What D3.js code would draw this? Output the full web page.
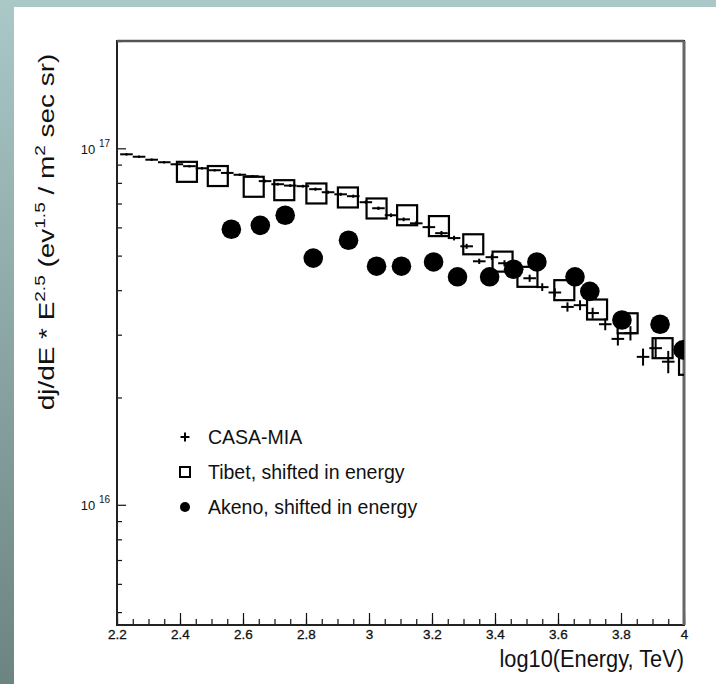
<!DOCTYPE html>
<html>
<head>
    <meta charset="utf-8">
    <title>Cosmic ray spectrum</title>
    <style>
        body { margin: 0; }
        text { font-family: "Liberation Sans", Arial, Helvetica, sans-serif; fill: #111; }
    </style>
</head>
<body>
    <script src="https://cdnjs.cloudflare.com/ajax/libs/d3/7.9.0/d3.min.js"></script>
    <script>

        // CASA-MIA: log10(E) bin centres, flux and relative error
        const casaE = [2.23, 2.27, 2.31, 2.35, 2.39, 2.43, 2.47, 2.51, 2.55, 2.59, 2.63,
            2.67, 2.71, 2.75, 2.79, 2.83, 2.87, 2.91, 2.95, 2.99, 3.03, 3.07, 3.11, 3.15,
            3.19, 3.23, 3.27, 3.31, 3.35, 3.39, 3.43, 3.47, 3.51, 3.55, 3.59, 3.63, 3.67,
            3.71, 3.75, 3.79, 3.83, 3.87, 3.91, 3.95];
        const casaFlux = [9.62e16, 9.47e16, 9.29e16, 9.14e16, 9.02e16, 8.91e16, 8.79e16,
            8.68e16, 8.53e16, 8.43e16, 8.35e16, 8.09e16, 7.93e16, 7.86e16, 7.83e16, 7.68e16,
            7.53e16, 7.43e16, 7.34e16, 7.06e16, 6.79e16, 6.49e16, 6.32e16, 6.16e16, 6.01e16,
            5.78e16, 5.60e16, 5.31e16, 4.82e16, 4.95e16, 4.76e16, 4.58e16, 4.32e16, 4.08e16,
            3.94e16, 3.59e16, 3.63e16, 3.45e16, 3.21e16, 2.92e16, 3.03e16, 2.60e16, 2.75e16,
            2.52e16];
        const casaErr = [0.008, 0.008, 0.008, 0.008, 0.008, 0.008, 0.008, 0.008, 0.008,
            0.008, 0.008, 0.009, 0.009, 0.009, 0.009, 0.01, 0.01, 0.01, 0.01, 0.011, 0.011,
            0.012, 0.012, 0.013, 0.013, 0.014, 0.015, 0.016, 0.017, 0.018, 0.02, 0.021, 0.023,
            0.025, 0.027, 0.03, 0.032, 0.035, 0.038, 0.042, 0.046, 0.055, 0.062, 0.072];

        const tibetE = [2.422, 2.520, 2.634, 2.731, 2.833, 2.933, 3.024, 3.121, 3.222,
            3.331, 3.424, 3.503, 3.620, 3.724, 3.821, 3.932, 4.016];
        const tibetFlux = [8.59e16, 8.36e16, 7.80e16, 7.63e16, 7.47e16, 7.28e16, 6.78e16,
            6.49e16, 6.05e16, 5.38e16, 4.81e16, 4.36e16, 4.00e16, 3.53e16, 3.23e16, 2.75e16,
            2.47e16];

        const akenoE = [2.563, 2.655, 2.734, 2.823, 2.935, 3.024, 3.103, 3.205, 3.281,
            3.383, 3.459, 3.533, 3.654, 3.701, 3.803, 3.924, 3.997];
        const akenoFlux = [5.93e16, 6.08e16, 6.49e16, 4.92e16, 5.52e16, 4.67e16, 4.67e16,
            4.80e16, 4.36e16, 4.36e16, 4.58e16, 4.80e16, 4.36e16, 3.97e16, 3.30e16, 3.21e16,
            2.72e16];

        const legendLabels = ["CASA-MIA", "Tibet, shifted in energy", "Akeno, shifted in energy"];
        const yLabelDecades = [1e16, 1e17];

        const width = 716;
        const height = 684;
        const margin = {top: 41, right: 32, bottom: 59, left: 117};
        const innerW = width - margin.left - margin.right;
        const innerH = height - margin.top - margin.bottom;
        const binHalf = 0.02;

        const svg = d3.select("body")
            .append("svg")
            .attr("width", width)
            .attr("height", height);

        // slide background
        const grad = svg.append("defs").append("linearGradient")
            .attr("id", "bg").attr("x1", 0).attr("y1", 0).attr("x2", 0).attr("y2", 1);
        grad.append("stop").attr("offset", "0%").attr("stop-color", "#a9c8c7");
        grad.append("stop").attr("offset", "100%").attr("stop-color", "#6c8482");
        svg.select("defs").append("clipPath").attr("id", "plotclip")
            .append("rect").attr("width", innerW).attr("height", innerH);

        svg.append("rect").attr("width", width).attr("height", height).attr("fill", "url(#bg)");
        svg.append("rect").attr("x", 14).attr("y", 7)
            .attr("width", width - 14).attr("height", height - 7).attr("fill", "#fff");

        const g = svg.append("g")
            .attr("transform", `translate(${margin.left},${margin.top})`);

        const x = d3.scaleLinear().domain([2.2, 4.0]).range([0, innerW]);
        const y = d3.scaleLog().domain([4.6e15, 2e17]).range([innerH, 0]);

        // x axis: minor every 0.05, major every 0.2, ticks pointing inward
        const xMinor = x.ticks(36);
        const xMajor = x.ticks(9);
        g.append("g")
            .attr("transform", `translate(0,${innerH})`)
            .call(d3.axisBottom(x).tickValues(xMinor).tickSize(-6).tickFormat(""))
            .call(a => a.select(".domain").remove());
        const xAx = g.append("g")
            .attr("transform", `translate(0,${innerH})`)
            .call(d3.axisBottom(x).tickValues(xMajor).tickSize(-12).tickPadding(4)
                .tickFormat(d => String(+d.toFixed(1))))
            .call(a => a.select(".domain").remove());
        xAx.selectAll("text").attr("font-size", 13.5)
            .attr("stroke", "#111").attr("stroke-width", 0.3)
            .style("font-family", "'Liberation Sans', Arial, sans-serif");

        // y axis: log, ticks inward
        const yMinor = y.ticks().filter(d => !yLabelDecades.includes(d));
        g.append("g")
            .call(d3.axisLeft(y).tickValues(yMinor).tickSize(-5).tickFormat(""))
            .call(a => a.select(".domain").remove());
        const yAx = g.append("g")
            .call(d3.axisLeft(y).tickValues(yLabelDecades).tickSize(-9).tickFormat(""))
            .call(a => a.select(".domain").remove());
        yAx.selectAll(".tick").each(function(d) {
            const t = d3.select(this).append("text")
                .attr("x", -7).attr("y", 5)
                .attr("text-anchor", "end")
                .attr("font-size", 13);
            t.append("tspan").text("10 ");
            t.append("tspan").attr("dy", -7).attr("font-size", 10).text(Math.round(Math.log10(d)));
        });
        g.selectAll(".tick line").attr("stroke", "#111").attr("stroke-width", 1.2);

        // frame
        g.append("rect")
            .attr("width", innerW).attr("height", innerH)
            .attr("fill", "none").attr("stroke", "#222").attr("stroke-width", 2);
        g.append("line").attr("x1", 0).attr("x2", innerW).attr("y1", 0).attr("y2", 0)
            .attr("stroke", "#555").attr("stroke-width", 2.5);
        g.append("line").attr("x1", innerW).attr("x2", innerW).attr("y1", 0).attr("y2", innerH)
            .attr("stroke", "#666").attr("stroke-width", 3);

        const plot = g.append("g").attr("clip-path", "url(#plotclip)");

        // CASA-MIA crosses: bin width horizontally, error bar vertically
        const casa = casaE.map((e, i) => ({e, f: casaFlux[i], err: casaErr[i]}));
        const cross = plot.selectAll(".casa").data(casa).enter().append("g").attr("class", "casa");
        cross.append("line")
            .attr("x1", d => x(d.e - binHalf)).attr("x2", d => x(d.e + binHalf))
            .attr("y1", d => y(d.f)).attr("y2", d => y(d.f));
        cross.append("line")
            .attr("x1", d => x(d.e)).attr("x2", d => x(d.e))
            .attr("y1", d => y(d.f * (1 - d.err))).attr("y2", d => y(d.f * (1 + d.err)));
        cross.selectAll("line").attr("stroke", "#000").attr("stroke-width", 2);

        // Tibet open squares
        const sq = 20;
        plot.selectAll(".tibet").data(tibetE).enter().append("rect")
            .attr("x", d => x(d) - sq / 2)
            .attr("y", (d, i) => y(tibetFlux[i]) - sq / 2)
            .attr("width", sq).attr("height", sq)
            .attr("fill", "none").attr("stroke", "#000").attr("stroke-width", 2.2);

        // Akeno filled circles
        plot.selectAll(".akeno").data(akenoE).enter().append("circle")
            .attr("cx", d => x(d))
            .attr("cy", (d, i) => y(akenoFlux[i]))
            .attr("r", 9.8)
            .attr("fill", "#000");

        // legend
        const leg = g.append("g").attr("transform", "translate(68,396)");
        legendLabels.forEach((label, i) => {
            const row = leg.append("g").attr("transform", `translate(0,${i * 35})`);
            if (i === 0) {
                row.append("path").attr("d", "M-4.5,0H4.5M0,-4.5V4.5")
                    .attr("stroke", "#000").attr("stroke-width", 2);
            } else if (i === 1) {
                row.append("rect").attr("x", -5).attr("y", -5).attr("width", 10).attr("height", 10)
                    .attr("fill", "none").attr("stroke", "#000").attr("stroke-width", 2);
            } else {
                row.append("circle").attr("r", 5).attr("fill", "#000");
            }
            row.append("text").attr("x", 23).attr("y", 7)
                .attr("font-size", 19.5).text(label);
        });

        // axis titles (the scan is slightly stretched vertically)
        svg.append("text")
            .attr("transform", `translate(${margin.left + innerW},667) scale(1,1.1)`)
            .attr("text-anchor", "end")
            .attr("font-size", 21.8)
            .text("log10(Energy, TeV)");

        const yl = svg.append("text")
            .attr("transform", "translate(54,232) rotate(-90) scale(1.27,1)")
            .attr("text-anchor", "middle").attr("font-size", 22);
        yl.append("tspan").text("dj/dE * E");
        yl.append("tspan").attr("dy", -9).attr("font-size", 15).text("2.5");
        yl.append("tspan").attr("dy", 9).text(" (ev");
        yl.append("tspan").attr("dy", -9).attr("font-size", 15).text("1.5");
        yl.append("tspan").attr("dy", 9).text(" / m");
        yl.append("tspan").attr("dy", -9).attr("font-size", 15).text("2");
        yl.append("tspan").attr("dy", 9).text(" sec sr)");

    </script>
</body>
</html>
